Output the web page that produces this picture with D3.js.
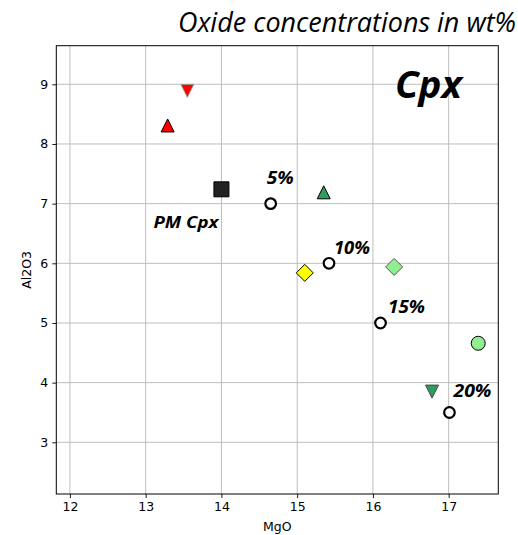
<!DOCTYPE html>
<html>
<head>
<meta charset="utf-8">
<script src="https://cdn.jsdelivr.net/npm/d3@7"></script>
<style>
  body { margin: 0; background: #fff; }
  svg { display: block; }
</style>
</head>
<body>
<div id="chart"></div>
<script>
// melting curve (open circles) and its labels
var meltMgO = [14.65, 15.42, 16.10, 17.01];
var meltAl2O3 = [7.0, 6.0, 5.0, 3.5];
var meltLabels = ["5%", "10%", "15%", "20%"];

// other Cpx analyses
var sampleMgO = [13.55, 13.29, 14.0, 15.35, 15.10, 16.28, 17.39, 16.78];
var sampleAl2O3 = [8.89, 8.31, 7.24, 7.19, 5.84, 5.94, 4.66, 3.85];
var sampleKinds = ["redDown", "redUp", "pm", "greenUp", "yellowDiamond", "lgDiamond", "lgCircle", "greenDown"];

var xTicks = [12, 13, 14, 15, 16, 17];
var yTicks = [3, 4, 5, 6, 7, 8, 9];

var W = 518, H = 535;
var m = {left: 56.3, right: 518 - 498.3, top: 45.7, bottom: 535 - 494};

var svg = d3.select("#chart").append("svg").attr("width", W).attr("height", H);

var x = d3.scaleLinear().domain([11.82, 17.655]).range([m.left, W - m.right]);
var y = d3.scaleLinear().domain([2.134, 9.647]).range([H - m.bottom, m.top]);

// grid
svg.append("g").selectAll("line").data(xTicks).enter().append("line")
    .attr("x1", d => x(d)).attr("x2", d => x(d))
    .attr("y1", m.top).attr("y2", H - m.bottom)
    .attr("stroke", "#bdbdbd").attr("stroke-width", 1);
svg.append("g").selectAll("line").data(yTicks).enter().append("line")
    .attr("y1", d => y(d)).attr("y2", d => y(d))
    .attr("x1", m.left).attr("x2", W - m.right)
    .attr("stroke", "#bdbdbd").attr("stroke-width", 1);

// axes
var xAxis = svg.append("g").attr("transform", "translate(0," + (H - m.bottom) + ")")
    .call(d3.axisBottom(x).tickValues(xTicks).tickSize(4).tickPadding(4).tickFormat(d3.format("d")));
var yAxis = svg.append("g").attr("transform", "translate(" + m.left + ",0)")
    .call(d3.axisLeft(y).tickValues(yTicks).tickSize(4).tickPadding(4).tickFormat(d3.format("d")));
[xAxis, yAxis].forEach(function(a){
    a.select(".domain").remove();
    a.selectAll("text").attr("font-family", "DejaVu Sans").attr("font-size", 12.5).attr("fill", "#000");
    a.selectAll("line").attr("stroke", "#000").attr("stroke-width", 0.9);
});

svg.append("rect")
    .attr("x", m.left).attr("y", m.top)
    .attr("width", W - m.right - m.left).attr("height", H - m.bottom - m.top)
    .attr("fill", "none").attr("stroke", "#000").attr("stroke-width", 1);

svg.append("text").attr("x", (m.left + W - m.right) / 2).attr("y", 531)
    .attr("text-anchor", "middle").attr("font-family", "DejaVu Sans").attr("font-size", 12.5)
    .text("MgO");
svg.append("text").attr("transform", "translate(31," + ((m.top + H - m.bottom) / 2) + ") rotate(-90)")
    .attr("text-anchor", "middle").attr("font-family", "DejaVu Sans").attr("font-size", 12.5)
    .text("Al2O3");

// marker shapes
function markerPath(shape, r) {
    if (shape === "up") return "M0," + (-r) + "L" + r + "," + r + "L" + (-r) + "," + r + "Z";
    if (shape === "down") return "M0," + r + "L" + r + "," + (-r) + "L" + (-r) + "," + (-r) + "Z";
    if (shape === "diamond") return "M0," + (-r) + "L" + r + ",0L0," + r + "L" + (-r) + ",0Z";
    if (shape === "square") return "M" + (-r) + "," + (-r) + "H" + r + "V" + r + "H" + (-r) + "Z";
    return d3.arc()({innerRadius: 0, outerRadius: r, startAngle: 0, endAngle: 2 * Math.PI});
}

var styles = {
    redDown:       {shape: "down", r: 6.5, fill: "#ff0000", stroke: "#9a9a9a"},
    redUp:         {shape: "up", r: 6.5, fill: "#ff0000", stroke: "#000"},
    pm:            {shape: "square", r: 7.5, fill: "#222222", stroke: "#000"},
    greenUp:       {shape: "up", r: 6.5, fill: "#2e9e5f", stroke: "#000"},
    yellowDiamond: {shape: "diamond", r: 8.5, fill: "#ffff00", stroke: "#000"},
    lgDiamond:     {shape: "diamond", r: 8.5, fill: "#90ee90", stroke: "#555"},
    lgCircle:      {shape: "circle", r: 7, fill: "#90ee90", stroke: "#000"},
    greenDown:     {shape: "down", r: 6.5, fill: "#2e9e5f", stroke: "#444"}
};

svg.append("g").selectAll("path").data(sampleKinds).enter().append("path")
    .attr("transform", (d, i) => "translate(" + x(sampleMgO[i]) + "," + y(sampleAl2O3[i]) + ")")
    .attr("d", d => markerPath(styles[d].shape, styles[d].r))
    .attr("fill", d => styles[d].fill)
    .attr("stroke", d => styles[d].stroke)
    .attr("stroke-width", 1);

svg.append("g").selectAll("circle").data(meltMgO).enter().append("circle")
    .attr("cx", d => x(d)).attr("cy", (d, i) => y(meltAl2O3[i]))
    .attr("r", 5.3).attr("fill", "#fff").attr("stroke", "#000").attr("stroke-width", 2.2);

// labels
var labelOffsets = [[-4, -20], [5, -9], [7.5, -10], [4, -15]];
var labelWidths = [27, 36, 37, 38];
svg.append("g").selectAll("text").data(meltLabels).enter().append("text")
    .attr("x", (d, i) => x(meltMgO[i]) + labelOffsets[i][0])
    .attr("y", (d, i) => y(meltAl2O3[i]) + labelOffsets[i][1])
    .attr("font-family", "Open Sans").attr("font-style", "italic").attr("font-weight", "bold")
    .attr("font-size", 17.5)
    .attr("textLength", (d, i) => labelWidths[i]).attr("lengthAdjust", "spacingAndGlyphs")
    .text(d => d);

svg.append("text").attr("x", x(14.0) - 68).attr("y", y(7.24) + 39)
    .attr("font-family", "Open Sans").attr("font-style", "italic").attr("font-weight", "bold")
    .attr("font-size", 16.5).attr("textLength", 65).attr("lengthAdjust", "spacingAndGlyphs")
    .text("PM Cpx");

svg.append("text").attr("x", 395).attr("y", 98)
    .attr("font-family", "Open Sans").attr("font-style", "italic").attr("font-weight", "bold")
    .attr("font-size", 38).attr("textLength", 67).attr("lengthAdjust", "spacingAndGlyphs")
    .text("Cpx");

svg.append("text").attr("x", 178).attr("y", 32)
    .attr("font-family", "Open Sans").attr("font-style", "italic")
    .attr("font-size", 27).attr("textLength", 338).attr("lengthAdjust", "spacingAndGlyphs")
    .text("Oxide concentrations in wt%");
</script>
</body>
</html>
